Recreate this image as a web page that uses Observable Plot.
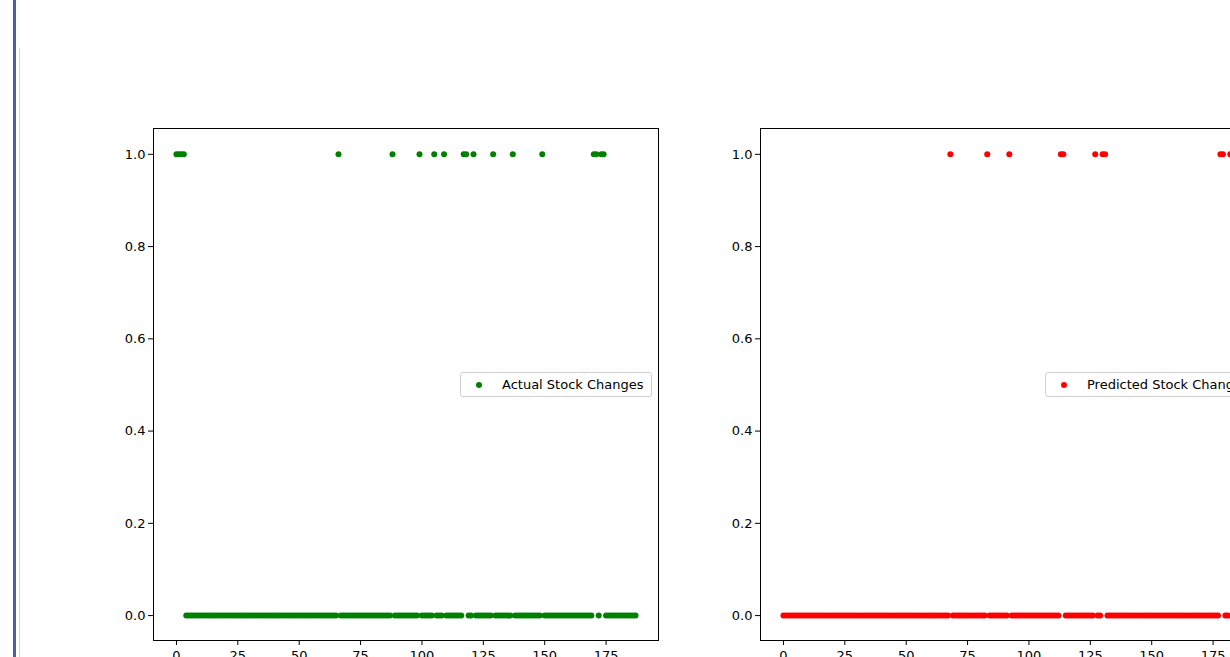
<!DOCTYPE html>
<html>
<head>
<meta charset="utf-8">
<script src="https://cdn.jsdelivr.net/npm/d3@7"></script>
<script src="https://cdn.jsdelivr.net/npm/@observablehq/plot@0.6"></script>
<style>
  html, body { margin: 0; padding: 0; background: #fff; }
  #page { position: relative; width: 1230px; height: 657px; overflow: hidden; background: #fff; font-family: "DejaVu Sans", sans-serif; }
  .bar-blue { position: absolute; left: 13px; top: 0; width: 3px; height: 657px; background: #4a62a2; }
  .bar-gray { position: absolute; left: 19px; top: 48px; width: 1px; height: 609px; background: #d4d4d4; }
  .panel { position: absolute; top: 0; }
  .legend { position: absolute; height: 23px; border: 1px solid #d0d0d0; border-radius: 3px; background: rgba(255,255,255,0.9);
            font-family: "DejaVu Sans", sans-serif; font-size: 13px; color: #000; box-sizing: content-box; white-space: nowrap; }
  .legend .dot { position: absolute; width: 6px; height: 6px; border-radius: 50%; top: 9px; }
  .legend .lbl { position: absolute; top: 4px; }
</style>
</head>
<body>
<div id="page">
  <div class="bar-blue"></div>
  <div class="bar-gray"></div>
</div>
<script>
// ---- data ----
const nDays = 188;                         // number of observations (index 0..187)
const actualOnes = [0, 1, 2, 3, 66, 88, 99, 105, 109, 117, 118, 121, 129, 137, 149, 170, 171, 173, 174];
const predictedOnes = [68, 83, 92, 113, 114, 127, 130, 131, 178, 179, 182];
const xTicks = [0, 25, 50, 75, 100, 125, 150, 175];
const yTicks = [0.0, 0.2, 0.4, 0.6, 0.8, 1.0];
const seriesNames = ["Actual Stock Changes", "Predicted Stock Changes"];
const seriesColors = ["#008000", "#ff0000"];

const indices = d3.range(nDays);
const actual = indices.map(i => ({i, v: actualOnes.includes(i) ? 1 : 0}));
const predicted = indices.map(i => ({i, v: predictedOnes.includes(i) ? 1 : 0}));

const page = document.getElementById("page");

function panel(data, color, left, name, legendLeft) {
  const chart = Plot.plot({
    width: 700,
    height: 680,
    marginLeft: 153,
    marginRight: 42,
    marginTop: 128,
    marginBottom: 40,
    style: {fontFamily: "DejaVu Sans", fontSize: "13px", color: "#000", background: "transparent", maxWidth: "none", overflow: "visible"},
    x: {domain: [-9.35, 196.35], ticks: xTicks, tickSize: 5, tickPadding: 5, tickFormat: d3.format("d"), label: null},
    y: {domain: [-0.054, 1.056], ticks: yTicks, tickSize: 5, tickPadding: 3, tickFormat: d3.format(".1f"), label: null},
    marks: [
      Plot.dot(data, {x: "i", y: "v", r: 3, fill: color, stroke: "none"}),
      Plot.frame({stroke: "#000", strokeWidth: 1})
    ]
  });
  const div = document.createElement("div");
  div.className = "panel";
  div.style.left = left + "px";
  div.appendChild(chart);
  page.appendChild(div);

  const lg = document.createElement("div");
  lg.className = "legend";
  lg.style.left = legendLeft + "px";
  lg.style.top = "372px";
  lg.style.width = "190px";
  lg.innerHTML = `<span class="dot" style="left:15px;top:9px;background:${color}"></span><span class="lbl" style="left:41px">${name}</span>`;
  page.appendChild(lg);
}

panel(actual, seriesColors[0], 0, seriesNames[0], 460);
panel(predicted, seriesColors[1], 607, seriesNames[1], 1045);
</script>
</body>
</html>
